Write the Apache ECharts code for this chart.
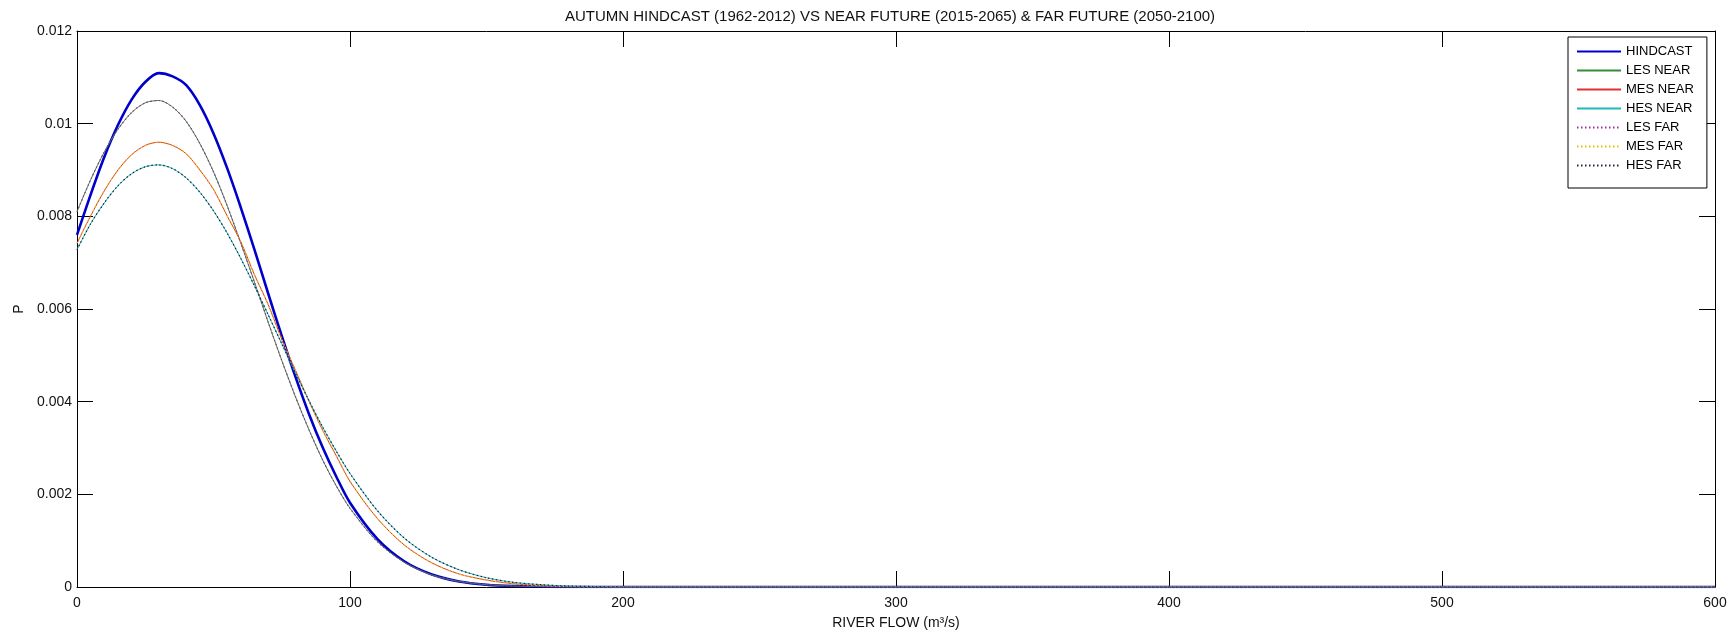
<!DOCTYPE html>
<html>
<head>
<meta charset="utf-8">
<script src="https://cdn.jsdelivr.net/npm/echarts@6/dist/echarts.min.js"></script>
<style>
html,body{margin:0;padding:0;background:#fff;}
#chart{width:1731px;height:633px;}
</style>
</head>
<body>
<div id="chart"></div>
<script>
// River flow (m3/s) sample points
const flow = [0,5,10,15,20,25,30,35,40,45,50,55,60,65,70,75,80,85,90,95,100,110,120,130,140,150,160,170,180,190,200,250,300,350,400,450,500,550,600];
// Probability density values
const hindcast = [0.0076,0.00847,0.00928,0.00997,0.01052,0.01090,0.01109,0.01102,0.01083,0.01040,0.00979,0.00904,0.00819,0.00728,0.00634,0.00542,0.00454,0.00373,0.00301,0.00238,0.00182,0.00104,0.00055,0.00027,0.00012,0.00005,0.00002,0.00001,0,0,0,0,0,0,0,0,0,0,0];
const lesNear = [0.00810,0.00879,0.00939,0.00988,0.01024,0.01045,0.01050,0.01036,0.01005,0.00957,0.00896,0.00823,0.00742,0.00658,0.00572,0.00489,0.00411,0.00339,0.00274,0.00218,0.00170,0.00098,0.00053,0.00026,0.00012,0.00005,0.00002,0.00001,0,0,0,0,0,0,0,0,0,0,0];
const mesNear = [0.00742,0.00801,0.00855,0.00900,0.00933,0.00953,0.00960,0.00953,0.00935,0.00900,0.00858,0.00801,0.00745,0.00674,0.00610,0.00535,0.00468,0.00401,0.00338,0.00283,0.00228,0.00148,0.00090,0.00052,0.00028,0.00015,0.00007,0.00003,0.00001,0,0,0,0,0,0,0,0,0,0];
const hesNear = [0.00728,0.00784,0.00829,0.00866,0.00892,0.00907,0.00911,0.00903,0.00883,0.00852,0.00812,0.00764,0.00709,0.00650,0.00588,0.00525,0.00462,0.00402,0.00345,0.00293,0.00245,0.00165,0.00105,0.00064,0.00037,0.00020,0.00010,0.00005,0.00002,0.00001,0,0,0,0,0,0,0,0,0];
const lesFar = [0.00810,0.00879,0.00939,0.00988,0.01024,0.01045,0.01050,0.01036,0.01005,0.00957,0.00896,0.00823,0.00742,0.00658,0.00572,0.00489,0.00411,0.00339,0.00274,0.00218,0.00170,0.00098,0.00053,0.00026,0.00012,0.00005,0.00002,0.00001,0,0,0,0,0,0,0,0,0,0,0];
const mesFar = [0.00742,0.00801,0.00855,0.00900,0.00933,0.00953,0.00960,0.00953,0.00935,0.00900,0.00858,0.00801,0.00745,0.00674,0.00610,0.00535,0.00468,0.00401,0.00338,0.00283,0.00228,0.00148,0.00090,0.00052,0.00028,0.00015,0.00007,0.00003,0.00001,0,0,0,0,0,0,0,0,0,0];
const hesFar = [0.00728,0.00784,0.00829,0.00866,0.00892,0.00907,0.00911,0.00903,0.00883,0.00852,0.00812,0.00764,0.00709,0.00650,0.00588,0.00525,0.00462,0.00402,0.00345,0.00293,0.00245,0.00165,0.00105,0.00064,0.00037,0.00020,0.00010,0.00005,0.00002,0.00001,0,0,0,0,0,0,0,0,0];
const seriesNames = ['HINDCAST','LES NEAR','MES NEAR','HES NEAR','LES FAR','MES FAR','HES FAR'];
const xTicks = [0,100,200,300,400,500,600];
const yTicks = [0,0.002,0.004,0.006,0.008,0.01,0.012];

const FONT = 'Liberation Sans, Arial, sans-serif';
const styles = [
  {color:'#0000cc', width:2.6, type:'solid'},
  {color:'#3a8a3a', width:1, type:'solid'},
  {color:'#e03030', width:1, type:'solid'},
  {color:'#20b8b8', width:1, type:'solid'},
  {color:'#9a30a0', width:1.2, type:[1.5,2.5]},
  {color:'#e8c000', width:1.2, type:[1.5,2.5]},
  {color:'#202040', width:1.2, type:[1.5,2.5]}
];
const allData = [hindcast,lesNear,mesNear,hesNear,lesFar,mesFar,hesFar];

const chart = echarts.init(document.getElementById('chart'), null, {renderer:'canvas'});

const tickCommon = {inside:true, length:16, lineStyle:{color:'#000', width:1}};
const option = {
  animation:false,
  backgroundColor:'#fff',
  title:{
    text:'AUTUMN HINDCAST (1962-2012) VS NEAR FUTURE (2015-2065) & FAR FUTURE (2050-2100)',
    left:885, top:4, textAlign:'center',
    textStyle:{fontFamily:FONT, fontSize:15, fontWeight:'normal', color:'#111'}
  },
  grid:{left:77, right:16, top:31, bottom:46, containLabel:false, outerBoundsMode:'none'},
  legend:{
    orient:'vertical', left:1568, top:37,
    backgroundColor:'#fff', borderColor:'#000', borderWidth:1,
    padding:[8,13,16,8],
    itemWidth:44, itemHeight:14, itemGap:6,
    itemStyle:{opacity:0, color:'rgba(0,0,0,0)', borderWidth:0},
    textStyle:{fontFamily:FONT, fontSize:13, color:'#000'},
    data:seriesNames
  },
  xAxis:[{
    type:'value', min:xTicks[0], max:xTicks[xTicks.length-1], interval:100,
    name:'RIVER FLOW (m³/s)', nameLocation:'middle', nameGap:29,
    nameTextStyle:{fontFamily:FONT, fontSize:14, color:'#111'},
    axisLine:{show:true, onZero:false, lineStyle:{color:'#000', width:1}},
    axisTick:tickCommon,
    axisLabel:{fontFamily:FONT, fontSize:14, color:'#111', margin:9},
    splitLine:{show:false}
  },{
    type:'value', position:'top', min:xTicks[0], max:xTicks[xTicks.length-1], interval:100,
    axisLine:{show:true, onZero:false, lineStyle:{color:'#000', width:1}},
    axisTick:tickCommon, axisLabel:{show:false}, splitLine:{show:false}
  }],
  yAxis:[{
    type:'value', min:yTicks[0], max:yTicks[yTicks.length-1], interval:0.002,
    name:'P', nameLocation:'middle', nameGap:48, nameRotate:90,
    nameTextStyle:{fontFamily:FONT, fontSize:14, color:'#111'},
    axisLine:{show:true, onZero:false, lineStyle:{color:'#000', width:1}},
    axisTick:tickCommon,
    axisLabel:{fontFamily:FONT, fontSize:14, color:'#111', margin:5},
    splitLine:{show:false}
  },{
    type:'value', position:'right', min:yTicks[0], max:yTicks[yTicks.length-1], interval:0.002,
    axisLine:{show:true, onZero:false, lineStyle:{color:'#000', width:1}},
    axisTick:tickCommon, axisLabel:{show:false}, splitLine:{show:false}
  }],
  series: seriesNames.map((n,i)=>({
    name:n, type:'line', xAxisIndex:0, yAxisIndex:0,
    data: flow.map((x,j)=>[x, allData[i][j]]),
    smooth:0.3,
    symbol:'none', showSymbol:false,
    lineStyle:{color:styles[i].color, width:styles[i].width, type:styles[i].type},
    itemStyle:{color:styles[i].color},
    z: 2 + i
  }))
};
chart.setOption(option);
</script>
</body>
</html>
